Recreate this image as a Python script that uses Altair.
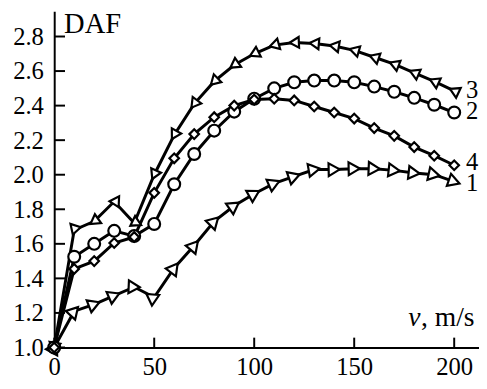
import math
import altair as alt
import pandas as pd

# ---- data ----
speed = [0, 10, 20, 30, 40, 50, 60, 70, 80, 90, 100, 110, 120, 130, 140, 150, 160, 170, 180, 190, 200]
daf_1 = [1.0, 1.21, 1.25, 1.30, 1.35, 1.29, 1.46, 1.59, 1.73, 1.82, 1.89, 1.95, 1.99, 2.03, 2.03, 2.035, 2.035, 2.025, 2.01, 2.0, 1.96]
daf_2 = [1.0, 1.525, 1.60, 1.675, 1.645, 1.715, 1.945, 2.12, 2.255, 2.365, 2.44, 2.50, 2.535, 2.545, 2.545, 2.535, 2.51, 2.48, 2.445, 2.405, 2.36]
daf_3 = [1.0, 1.68, 1.73, 1.845, 1.72, 2.0, 2.23, 2.41, 2.54, 2.635, 2.70, 2.75, 2.765, 2.76, 2.745, 2.72, 2.68, 2.64, 2.59, 2.54, 2.485]
daf_4 = [1.0, 1.455, 1.50, 1.605, 1.64, 1.895, 2.095, 2.235, 2.333, 2.40, 2.435, 2.44, 2.43, 2.395, 2.36, 2.325, 2.27, 2.225, 2.16, 2.11, 2.055]
curve_names = ["1", "3", "2", "4"]          # drawing order
label_daf = [1.952, 2.487, 2.368, 2.075]     # where the curve numbers sit
x_ticks = [0, 50, 100, 150, 200]
y_ticks = [1.0, 1.2, 1.4, 1.6, 1.8, 2.0, 2.2, 2.4, 2.6, 2.8]

# ---- layout ----
W, H = 432, 342
X_MAX = 212.4
Y_MIN, Y_MAX = 1.0, 2.9465
FONT = "Liberation Serif"

series = {"1": daf_1, "2": daf_2, "3": daf_3, "4": daf_4}
px_x = W / X_MAX
px_y = H / (Y_MAX - Y_MIN)

rows = []
for name in curve_names:
    vals = series[name]
    n = len(vals)
    for i, (v, d) in enumerate(zip(speed, vals)):
        a, b = (0, 1) if i == 0 else ((n - 2, n - 1) if i == n - 1 else (i - 1, i + 1))
        dx = (speed[b] - speed[a]) * px_x
        dy = -(vals[b] - vals[a]) * px_y
        ang = math.degrees(math.atan2(dy, dx)) % 360 if name in ("1", "3") else 0
        rows.append({"v": v, "daf": d, "curve": name, "angle": ang})
df = pd.DataFrame(rows)

labels = pd.DataFrame({"v": [200] * 4, "daf": label_daf, "curve": curve_names})
yt = pd.DataFrame({"v": [0] * len(y_ticks), "daf": y_ticks})
xt = pd.DataFrame({"v": x_ticks, "daf": [1.0] * len(x_ticks)})

xscale = alt.Scale(domain=[0, X_MAX], nice=False, zero=False)
yscale = alt.Scale(domain=[Y_MIN, Y_MAX], nice=False, zero=False)

common = dict(title=None, ticks=False, grid=False, labelFont=FONT, labelFontSize=25,
              labelColor="black", domainColor="black", domainWidth=2,
              labelOverlap=False, labelFlush=False)
xaxis = alt.Axis(values=x_ticks, labelPadding=7, **common)
yaxis = alt.Axis(values=y_ticks, format=".1f", labelPadding=11, **common)

X = alt.X("v:Q", scale=xscale, axis=xaxis)
Y = alt.Y("daf:Q", scale=yscale, axis=yaxis)

lines = alt.Chart(df).mark_line(color="black", strokeWidth=3).encode(
    x=X, y=Y, detail="curve:N",
)

points = alt.Chart(df).mark_point(filled=False, fill="white", fillOpacity=1, stroke="black",
                                  strokeWidth=2.2, opacity=1).encode(
    x=X, y=Y,
    shape=alt.Shape("curve:N", scale=alt.Scale(domain=["1", "2", "3", "4"],
                    range=["triangle-right", "circle", "triangle-left", "diamond"]), legend=None),
    size=alt.Size("curve:N", scale=alt.Scale(domain=["1", "2", "3", "4"],
                  range=[170, 95, 170, 380]), legend=None),
    angle=alt.Angle("angle:Q", scale=None),
)

curve_text = alt.Chart(labels).mark_text(align="left", baseline="middle", dx=12, font=FONT,
                                         fontSize=25, color="black").encode(
    x=X, y=Y, text="curve:N",
)

ytick_rules = alt.Chart(yt).mark_rule(color="black", strokeWidth=2).encode(
    y=Y, x=alt.value(0), x2=alt.value(11))
xtick_rules = alt.Chart(xt).mark_rule(color="black", strokeWidth=2).encode(
    x=X, y=alt.value(H), y2=alt.value(H - 10))

one = pd.DataFrame({"k": [0]})
daf_title = alt.Chart(one).mark_text(text="DAF", align="left", baseline="alphabetic", font=FONT,
                                     fontSize=29, color="black").encode(x=alt.value(10), y=alt.value(22))
v_title = alt.Chart(one).mark_text(text="v", align="left", baseline="alphabetic", font=FONT,
                                   fontSize=28, fontStyle="italic", color="black").encode(
    x=alt.value(360), y=alt.value(320))
unit_title = alt.Chart(one).mark_text(text=", m/s", align="left", baseline="alphabetic", font=FONT,
                                      fontSize=28, color="black").encode(
    x=alt.value(373), y=alt.value(320))

chart = alt.layer(lines, ytick_rules, xtick_rules, points, curve_text, daf_title, v_title, unit_title).properties(
    width=W, height=H,
    autosize=alt.AutoSizeParams(type="none"),
    padding={"left": 47, "top": 0, "right": 0, "bottom": 41},
).configure_view(stroke=None).configure_axis(
    labelFont=FONT, labelFontSize=25, labelColor="black", domainColor="black", domainWidth=2,
    ticks=False, grid=False, labelOverlap=False, labelFlush=False,
)

chart.save("out.html", embed_options={"renderer": "svg", "actions": False})
